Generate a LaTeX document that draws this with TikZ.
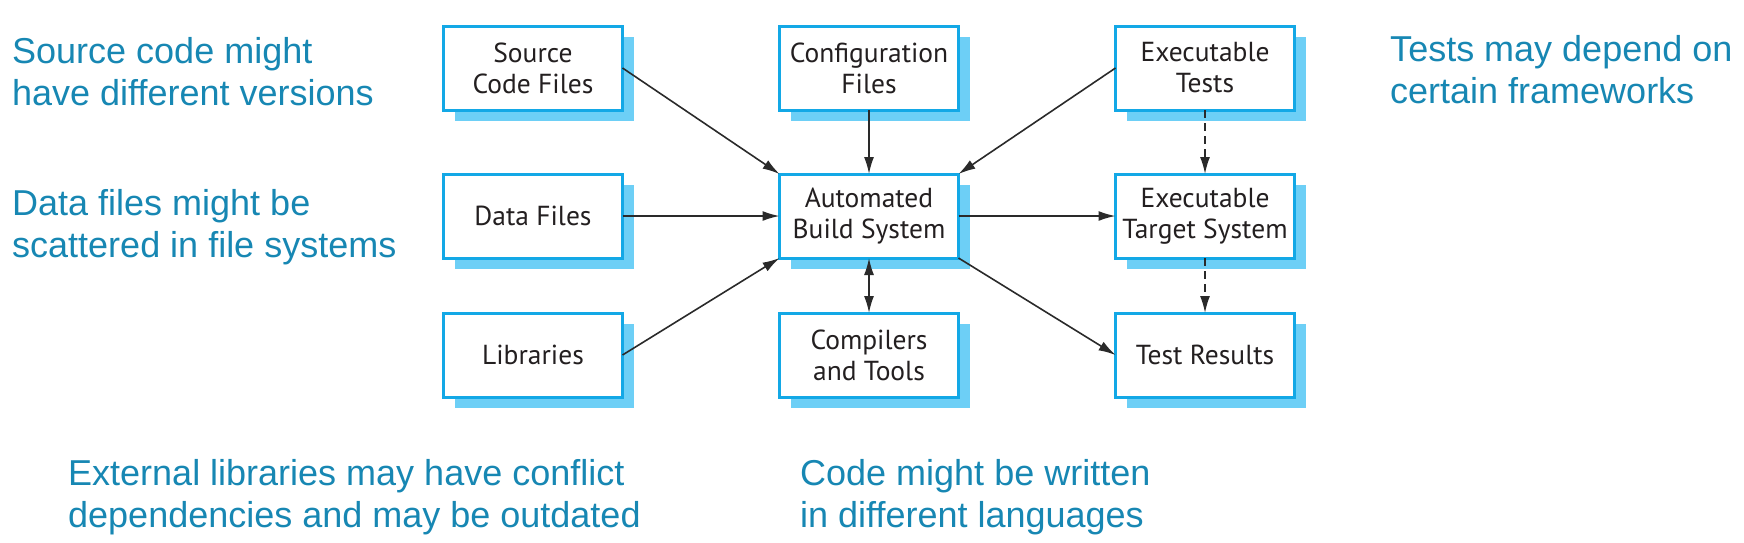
\documentclass[tikz,border=0pt]{standalone}
\usepackage{fontspec}
\setmainfont{Liberation Sans}
\newfontfamily\boxfont{PT Sans}
\usetikzlibrary{arrows.meta,shadows}
\definecolor{boxline}{HTML}{13A8E6}
\definecolor{boxshadow}{HTML}{6DCFF6}
\definecolor{notecol}{HTML}{1787B3}
\definecolor{boxtext}{HTML}{231F20}
\definecolor{arrowcol}{HTML}{2A2A2A}
\tikzset{
  stepbox/.style={draw=boxline, line width=3pt, fill=white,
    minimum width=179pt, minimum height=84pt, inner sep=0pt, outer sep=0pt,
    align=center, text=boxtext,
    font=\boxfont\fontsize{27.5}{31}\selectfont,
    drop shadow={shadow xshift=11pt, shadow yshift=-11pt, fill=boxshadow, opacity=1}},
  note/.style={anchor=base west, align=left, text=notecol, inner sep=0pt,
    font=\fontsize{36}{42}\selectfont},
  conn/.style={draw=arrowcol, line width=1.6pt,
    -{Latex[length=17pt,width=10pt]}},
  dconn/.style={conn, dash pattern=on 8pt off 5pt}
}
\begin{document}
\begin{tikzpicture}[x=1pt,y=-1pt]
\useasboundingbox (0,0) rectangle (1744,542);
\node[stepbox] (src) at (533,68) {Source\\Code Files};
\node[stepbox] (cfg) at (869,68) {Configuration\\Files};
\node[stepbox] (ext) at (1205,68) {Executable\\Tests};
\node[stepbox] (dat) at (533,216) {Data Files};
\node[stepbox] (abs) at (869,216) {Automated\\Build System};
\node[stepbox] (tgt) at (1205,216) {Executable\\Target System};
\node[stepbox] (lib) at (533,355) {Libraries};
\node[stepbox] (cmp) at (869,355) {Compilers\\and Tools};
\node[stepbox] (res) at (1205,355) {Test Results};

\draw[conn] (src.east) -- (abs.north west);
\draw[conn] (cfg.south) -- (abs.north);
\draw[conn] (ext.west) -- (abs.north east);
\draw[conn] (dat.east) -- (abs.west);
\draw[conn] (lib.east) -- (abs.south west);
\draw[conn, {Latex[length=17pt,width=10pt]}-{Latex[length=17pt,width=10pt]}] (abs.south) -- (cmp.north);
\draw[conn] (abs.east) -- (tgt.west);
\draw[conn] (abs.south east) -- (res.west);
\draw[dconn] (ext.south) -- (tgt.north);
\draw[dconn] (tgt.south) -- (res.north);

\node[note] (n1) at (12,105) {Source code might\\have different versions};
\node[note] (n2) at (12,257) {Data files might be\\scattered in file systems};
\node[note] (n3) at (1390,103) {Tests may depend on\\certain frameworks};
\node[note] (n4) at (68,527) {External libraries may have conflict\\dependencies and may be outdated};
\node[note] (n5) at (800,527) {Code might be written\\in different languages};
\end{tikzpicture}
\end{document}
